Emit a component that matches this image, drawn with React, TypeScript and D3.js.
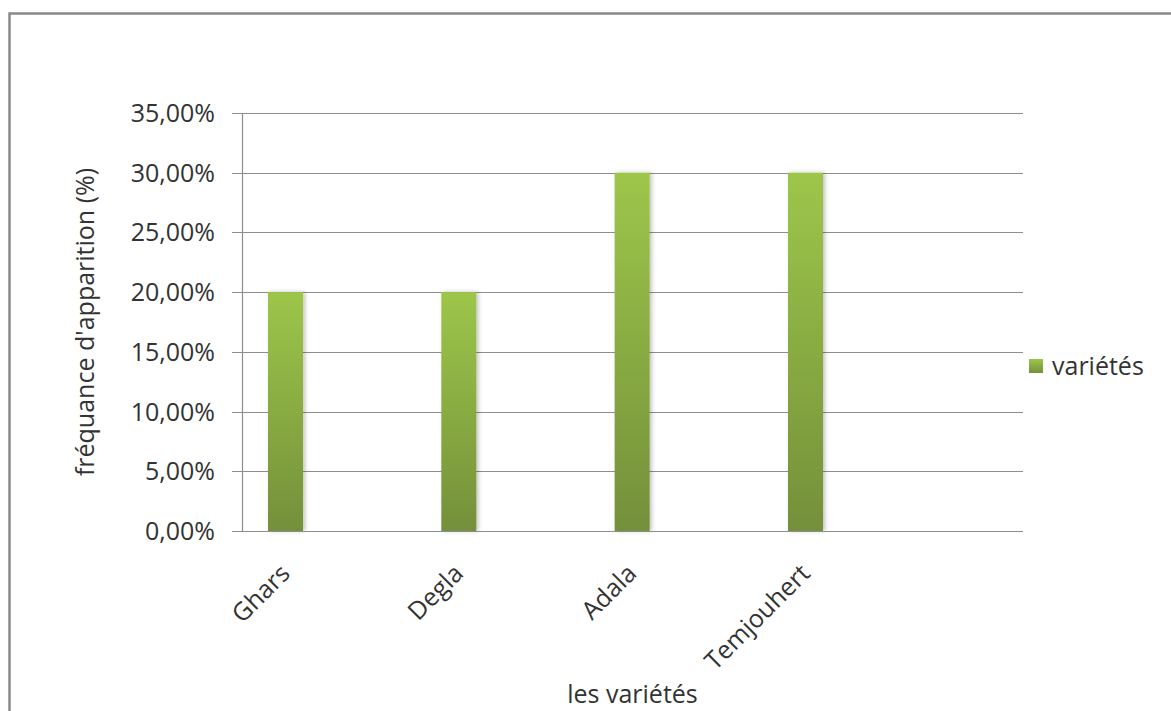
import React from "react";
import * as d3 from "d3";

const categories: string[] = ["Ghars", "Degla", "Adala", "Temjouhert"];
const values: number[] = [0.2, 0.2, 0.3, 0.3];
const seriesName = "variétés";
const yTicks: number[] = [0, 0.05, 0.1, 0.15, 0.2, 0.25, 0.3, 0.35];
const yTickLabels: string[] = ["0,00%", "5,00%", "10,00%", "15,00%", "20,00%", "25,00%", "30,00%", "35,00%"];
const yTitle = "fréquance d'apparition (%)";
const xTitle = "les variétés";

const W = 1171;
const H = 711;
const FONT = "'Open Sans', 'DejaVu Sans', sans-serif";
const FS = 25;
const TEXT = "#333333";
const GRID = "#8e8e8e";

const plotLeft = 242;
const plotRight = 1023;
const plotTop = 113;
const plotBottom = 531;

export default function App() {
  const y = d3.scaleLinear().domain([0, 0.35]).range([plotBottom, plotTop]);
  const x = d3
    .scaleBand<string>()
    .domain(categories)
    .range([268, 823])
    .paddingInner(0.798)
    .paddingOuter(0);
  const bw = x.bandwidth();

  return (
    <svg
      width={W}
      height={H}
      style={{ position: "absolute", left: 0, top: 0, background: "#fff" }}
      fontFamily={FONT}
    >
      <defs>
        <linearGradient id="barGrad" x1="0" y1="0" x2="0" y2="1">
          <stop offset="0%" stopColor="#9dc64a" />
          <stop offset="100%" stopColor="#74903a" />
        </linearGradient>
        <filter id="shadow" x="-30%" y="-10%" width="160%" height="120%">
          <feDropShadow dx="2" dy="0" stdDeviation="2" floodColor="#000" floodOpacity="0.25" />
        </filter>
      </defs>

      <rect x={0} y={0} width={W} height={H} fill="#fff" />
      {/* outer chart border */}
      <rect x={9.5} y={13.5} width={W + 20} height={H + 40} fill="none" stroke="#8a8a8a" strokeWidth={2.5} />

      {/* gridlines + ticks */}
      {yTicks.map((t, i) => (
        <g key={i}>
          <line x1={plotLeft - 10} x2={plotRight} y1={Math.round(y(t)) + 0.5} y2={Math.round(y(t)) + 0.5} stroke={GRID} strokeWidth={1.2} />
          <text
            x={215}
            y={y(t)}
            dy="0.36em"
            textAnchor="end"
            fontSize={FS}
            fill={TEXT}
          >
            {yTickLabels[i]}
          </text>
        </g>
      ))}
      {/* y axis */}
      <line x1={plotLeft + 0.5} x2={plotLeft + 0.5} y1={plotTop} y2={plotBottom} stroke={GRID} strokeWidth={1.2} />

      {/* bars */}
      {categories.map((c, i) => (
        <rect
          key={c}
          x={x(c)}
          y={y(values[i])}
          width={bw}
          height={y(0) - y(values[i])}
          fill="url(#barGrad)"
          filter="url(#shadow)"
        />
      ))}
      {/* baseline redraw */}
      <line x1={plotLeft - 10} x2={plotRight} y1={Math.round(y(0)) + 0.5} y2={Math.round(y(0)) + 0.5} stroke={GRID} strokeWidth={1.2} />

      {/* x labels */}
      {categories.map((c) => {
        const cx = (x(c) as number) + bw / 2 + 6;
        const cy = 575;
        return (
          <text
            key={c}
            x={cx}
            y={cy}
            textAnchor="end"
            fontSize={FS}
            fill={TEXT}
            transform={`rotate(-45, ${cx}, ${cy})`}
          >
            {c}
          </text>
        );
      })}

      {/* axis titles */}
      <text x={(plotLeft + plotRight) / 2} y={703} textAnchor="middle" fontSize={FS} fill={TEXT}>
        {xTitle}
      </text>
      <text
        x={94}
        y={(plotTop + plotBottom) / 2}
        textAnchor="middle"
        fontSize={FS}
        fill={TEXT}
        transform={`rotate(-90, 94, ${(plotTop + plotBottom) / 2})`}
      >
        {yTitle}
      </text>

      {/* legend */}
      <rect x={1029} y={359} width={14} height={14} fill="url(#barGrad)" />
      <text x={1052} y={366} dy="0.36em" fontSize={FS} fill={TEXT}>
        {seriesName}
      </text>
    </svg>
  );
}
